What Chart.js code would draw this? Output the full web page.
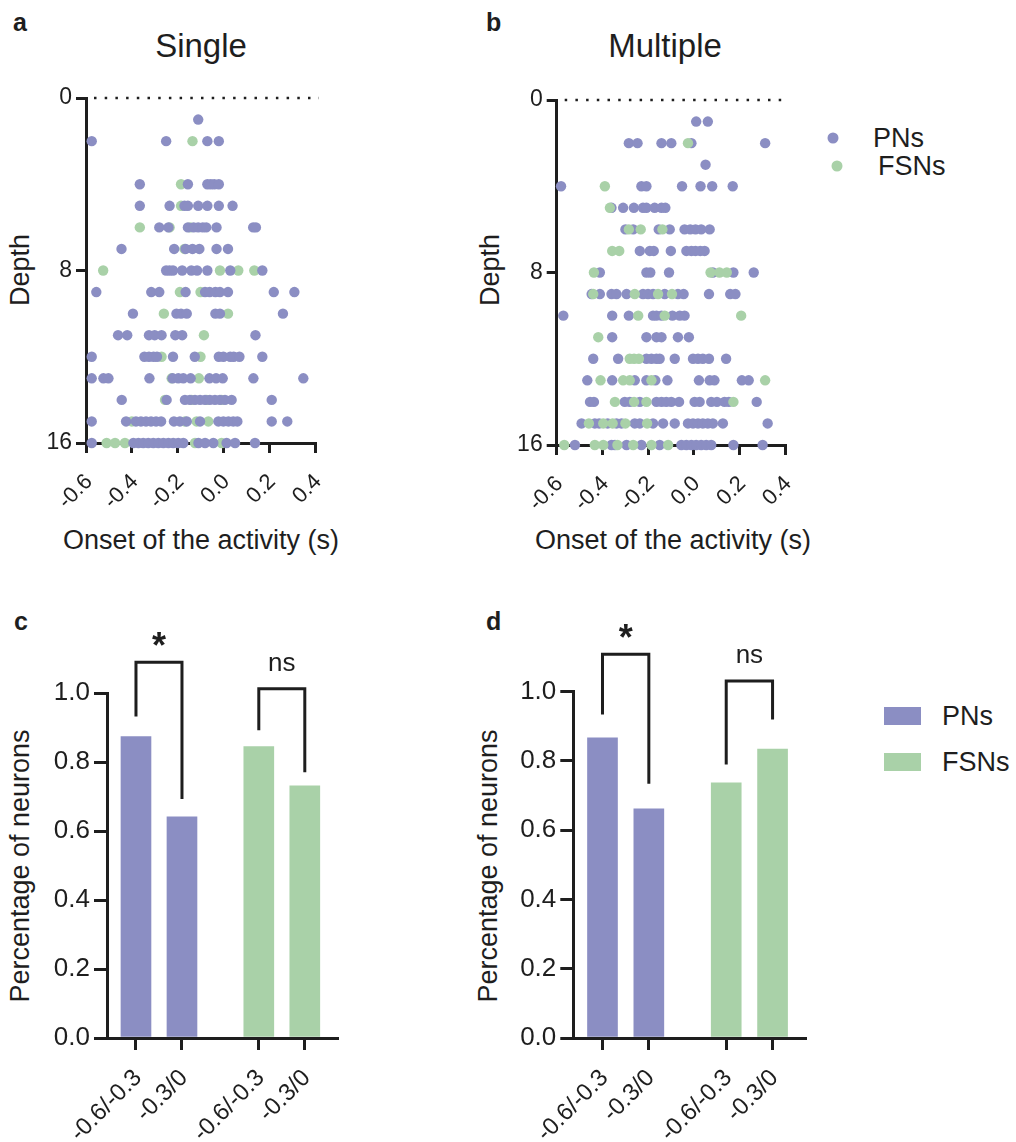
<!DOCTYPE html>
<html>
<head>
<meta charset="utf-8">
<script src="https://cdn.jsdelivr.net/npm/chart.js@4.4.0/dist/chart.umd.min.js"></script>
<style>
  body { margin: 0; background: #fff; width: 1016px; height: 1142px; position: relative; overflow: hidden;
         font-family: "Liberation Sans", Arial, sans-serif; color: #1e1e1e; }
  canvas { position: absolute; }
  .txt { position: absolute; line-height: 1; white-space: nowrap; }
  .center { transform: translate(-50%, -50%); }
  .rot { transform: translate(-50%, -50%) rotate(-90deg); }
  .letter { font-weight: bold; font-size: 25px; }
  .title { font-size: 33px; }
  .axis { font-size: 27px; }
  .leg { font-size: 27px; transform: translateY(-50%); }
  .dot { position: absolute; width: 11px; height: 11px; border-radius: 50%; transform: translate(-50%, -50%); }
  .sq { position: absolute; width: 37px; height: 18px; }
</style>
</head>
<body>

<div class="txt letter" style="left:13px; top:10px;">a</div>
<div class="txt letter" style="left:486px; top:10px;">b</div>
<div class="txt letter" style="left:14px; top:609px;">c</div>
<div class="txt letter" style="left:486px; top:609px;">d</div>

<div class="txt title center" style="left:201px; top:45px;">Single</div>
<div class="txt title center" style="left:665px; top:45px;">Multiple</div>

<div class="txt axis rot" style="left:20px; top:270px;">Depth</div>
<div class="txt axis rot" style="left:490px; top:270px;">Depth</div>
<div class="txt axis center" style="left:201px; top:540px;">Onset of the activity (s)</div>
<div class="txt axis center" style="left:673px; top:540px;">Onset of the activity (s)</div>
<div class="txt axis rot" style="left:20px; top:866px;">Percentage of neurons</div>
<div class="txt axis rot" style="left:488px; top:866px;">Percentage of neurons</div>

<div class="dot" style="left:833px; top:138px; background:#8B8EC3;"></div>
<div class="txt leg" style="left:873px; top:138px;">PNs</div>
<div class="dot" style="left:837px; top:166px; background:#A9D1A8;"></div>
<div class="txt leg" style="left:878px; top:166px;">FSNs</div>

<div class="sq" style="left:884px; top:707px; background:#8B8EC3;"></div>
<div class="txt leg" style="left:942px; top:716px;">PNs</div>
<div class="sq" style="left:884px; top:753px; background:#A9D1A8;"></div>
<div class="txt leg" style="left:942px; top:762px;">FSNs</div>

<canvas id="chartA" width="340" height="510" style="left:0px; top:60px;"></canvas>
<canvas id="chartB" width="340" height="510" style="left:470px; top:62px;"></canvas>
<canvas id="chartC" width="360" height="542" style="left:0px; top:600px;"></canvas>
<canvas id="chartD" width="360" height="542" style="left:470px; top:600px;"></canvas>

<script>
const PN_COLOR = '#8B8EC3';
const FSN_COLOR = '#A9D1A8';
const INK = '#1e1e1e';

// onset (s) of each neuron, grouped by depth row
const singlePN = {
  1: [-0.11],
  2: [-0.575, -0.25, -0.07, -0.02],
  4: [-0.365, -0.155, -0.07, -0.055, -0.04, -0.02],
  5: [-0.365, -0.235, -0.17, -0.155, -0.11, -0.07, -0.02, 0.04],
  6: [-0.28, -0.24, -0.155, -0.13, -0.11, -0.09, -0.075, -0.03, 0.13, 0.142],
  7: [-0.445, -0.215, -0.165, -0.135, -0.105, -0.03, 0.02],
  8: [-0.25, -0.235, -0.22, -0.18, -0.14, -0.115, -0.07, 0.03, 0.17],
  9: [-0.555, -0.315, -0.28, -0.165, -0.08, -0.06, -0.035, -0.015, 0.02, 0.22, 0.31],
  10: [-0.395, -0.205, -0.185, -0.16, -0.035, -0.015, 0.26],
  11: [-0.46, -0.42, -0.325, -0.3, -0.27, -0.21, -0.18, 0.14],
  12: [-0.575, -0.345, -0.325, -0.305, -0.29, -0.22, -0.125, -0.02, 0, 0.03, 0.045, 0.07, 0.17],
  13: [-0.575, -0.524, -0.502, -0.323, -0.222, -0.197, -0.175, -0.143, -0.061, -0.032, -0.003, 0.131, 0.349],
  14: [-0.444, -0.248, -0.168, -0.146, -0.124, -0.102, -0.08, -0.059, -0.037, -0.015, 0.007, 0.036, 0.211],
  15: [-0.575, -0.425, -0.382, -0.36, -0.338, -0.316, -0.294, -0.272, -0.216, -0.19, -0.16, -0.102,
       -0.022, 0, 0.022, 0.043, 0.061, 0.211, 0.279],
  16: [-0.575, -0.393, -0.371, -0.35, -0.328, -0.306, -0.284, -0.262, -0.24, -0.219, -0.197, -0.175,
       -0.109, -0.08, -0.044, 0.014, 0.051, 0.138]
};
const singleFSN = {
  2: [-0.135],
  4: [-0.185],
  5: [-0.185],
  6: [-0.365, -0.235, -0.145],
  7: [-0.17],
  8: [-0.525, -0.015, 0.065, 0.135],
  9: [-0.19, -0.1],
  10: [-0.26, 0.02],
  11: [-0.085],
  12: [-0.27, -0.1],
  13: [-0.226, -0.107],
  14: [-0.255, -0.139, -0.073, -0.008],
  15: [-0.4, -0.168, -0.117, -0.066],
  16: [-0.51, -0.473, -0.43, -0.124, -0.008]
};
const multiplePN = {
  1: [0.011, 0.062],
  2: [-0.284, -0.246, -0.141, -0.098, -0.01, 0.313],
  3: [0.052],
  4: [-0.581, -0.229, -0.207, -0.051, 0.03, 0.081, 0.171],
  5: [-0.36, -0.309, -0.262, -0.222, -0.207, -0.171, -0.141, -0.124],
  6: [-0.299, -0.265, -0.153, -0.105, -0.04, -0.015, 0.008, 0.033, 0.07],
  7: [-0.236, -0.192, -0.175, -0.1, -0.032, -0.01, 0.008, 0.029, 0.048],
  8: [-0.411, -0.207, -0.19, -0.108, 0.084, 0.174, 0.263],
  9: [-0.447, -0.411, -0.36, -0.338, -0.294, -0.222, -0.2, -0.178, -0.127, -0.069, -0.044, 0.067, 0.16, 0.183],
  10: [-0.571, -0.357, -0.284, -0.178, -0.163, -0.141, -0.093, -0.061, -0.04],
  11: [-0.357, -0.207, -0.163, -0.141, -0.069, -0.021],
  12: [-0.44, -0.331, -0.207, -0.185, -0.163, -0.149, -0.083, -0.003, 0.019, 0.04, 0.067, 0.142],
  13: [-0.466, -0.357, -0.258, -0.207, -0.168, -0.115, 0.023, 0.07, 0.091, 0.211, 0.241],
  14: [-0.454, -0.437, -0.302, -0.28, -0.236, -0.163, -0.141, -0.12, -0.098, -0.064, 0.004, 0.026,
       0.077, 0.102, 0.135, 0.154, 0.276],
  15: [-0.491, -0.433, -0.414, -0.377, -0.338, -0.316, -0.258, -0.236, -0.178, -0.134, -0.083, -0.025,
       -0.003, 0.019, 0.04, 0.062, 0.084, 0.128, 0.324],
  16: [-0.52, -0.36, -0.345, -0.294, -0.229, -0.149, -0.054, -0.032, -0.01, 0.011, 0.033, 0.055, 0.077, 0.174, 0.302]
};
const multipleFSN = {
  2: [-0.025],
  4: [-0.389],
  5: [-0.367],
  6: [-0.284, -0.232, -0.137],
  7: [-0.357, -0.326],
  8: [-0.437, 0.074, 0.113, 0.145],
  9: [-0.44, -0.258, -0.156, -0.095],
  10: [-0.243, -0.127, 0.208],
  11: [-0.418],
  12: [-0.28, -0.261, -0.24],
  13: [-0.408, -0.309, -0.28, -0.185, 0.313],
  14: [-0.345, -0.261, -0.207, 0.174],
  15: [-0.459, -0.396, -0.355, -0.299, -0.204],
  16: [-0.567, -0.433, -0.396, -0.334, -0.265, -0.185, -0.112]
};

const onsetTicks = [-0.6, -0.4, -0.2, 0.0, 0.2, 0.4];
const depthTicks = [0, 8, 16];

// bar panels
const barPos = [1, 2, 3.67, 4.67];
const barLabels = ['-0.6/-0.3', '-0.3/0', '-0.6/-0.3', '-0.3/0'];
const barGroups = ['PNs', 'PNs', 'FSNs', 'FSNs'];
const singleBars = [0.874, 0.641, 0.845, 0.731];
const multipleBars = [0.867, 0.662, 0.737, 0.834];
const singleBrackets = [
  { from: 0, to: 1, top: 1.089, left: 0.932, right: 0.693, text: '*' },
  { from: 2, to: 3, top: 1.012, left: 0.892, right: 0.770, text: 'ns' }
];
const multipleBrackets = [
  { from: 0, to: 1, top: 1.108, left: 0.934, right: 0.734, text: '*' },
  { from: 2, to: 3, top: 1.031, left: 0.790, right: 0.920, text: 'ns' }
];

function toPoints(rows) {
  const pts = [];
  Object.keys(rows).forEach(d => rows[d].forEach(x => pts.push({ x: x, y: Number(d) })));
  return pts;
}

const axisLine = { color: INK, width: 3 };
const tickGrid = (len) => ({ offset: false, drawOnChartArea: false, drawTicks: true, tickLength: len, color: INK, lineWidth: 3 });
// keep the plot area where it is, whatever the rotated labels stick out
const fixX = h => s => { s.height = h; s.paddingLeft = 0; s.paddingRight = 0; };
const fixY = w => s => { s.width = w; s.paddingTop = 0; s.paddingBottom = 0; };

const dottedZero = {
  id: 'dottedZero',
  beforeDatasetsDraw(chart) {
    const { ctx, scales: { x, y } } = chart;
    const py = y.getPixelForValue(0);
    ctx.save();
    ctx.strokeStyle = INK;
    ctx.lineWidth = 2.5;
    ctx.setLineDash([2.5, 8.2]);
    ctx.beginPath();
    ctx.moveTo(x.getPixelForValue(-0.6) + 8, py);
    ctx.lineTo(x.getPixelForValue(0.4) + 4, py);
    ctx.stroke();
    ctx.restore();
  }
};

function scatterChart(id, pn, fsn, pnOnTop, yWidth) {
  const pt = { pointRadius: 5.2, pointHoverRadius: 5.2, borderWidth: 0, clip: false };
  new Chart(document.getElementById(id), {
    type: 'scatter',
    data: {
      datasets: [
        Object.assign({ label: 'PNs', data: toPoints(pn), backgroundColor: PN_COLOR, order: pnOnTop ? 0 : 1 }, pt),
        Object.assign({ label: 'FSNs', data: toPoints(fsn), backgroundColor: FSN_COLOR, order: pnOnTop ? 1 : 0 }, pt)
      ]
    },
    options: {
      responsive: false,
      animation: false,
      layout: { padding: { left: 0, top: 38, right: 25, bottom: 0 } },
      plugins: { legend: { display: false }, tooltip: { enabled: false } },
      scales: {
        x: {
          type: 'linear', min: -0.6, max: 0.4,
          afterBuildTicks: s => { s.ticks = onsetTicks.map(v => ({ value: v })); },
          ticks: {
            minRotation: 45, maxRotation: 45, color: INK, padding: 16, labelOffset: 3,
            font: { family: 'Liberation Sans', size: 22 },
            callback: v => (Math.abs(v) < 1e-9 ? '0.0' : v.toFixed(1))
          },
          grid: tickGrid(10),
          border: axisLine,
          afterFit: fixX(127)
        },
        y: {
          type: 'linear', min: 0, max: 16, reverse: true,
          afterBuildTicks: s => { s.ticks = depthTicks.map(v => ({ value: v })); },
          ticks: { color: INK, padding: 4, font: { family: 'Liberation Sans', size: 23 } },
          grid: tickGrid(10),
          border: axisLine,
          afterFit: fixY(yWidth)
        }
      }
    },
    plugins: [dottedZero]
  });
}

function bracketPlugin(brackets) {
  return {
    id: 'brackets',
    afterDatasetsDraw(chart) {
      const { ctx, scales: { x, y } } = chart;
      ctx.save();
      ctx.strokeStyle = INK;
      ctx.fillStyle = INK;
      ctx.lineWidth = 3;
      ctx.lineJoin = 'miter';
      brackets.forEach(b => {
        const x1 = x.getPixelForValue(barPos[b.from]);
        const x2 = x.getPixelForValue(barPos[b.to]);
        const yt = y.getPixelForValue(b.top);
        ctx.beginPath();
        ctx.moveTo(x1, y.getPixelForValue(b.left));
        ctx.lineTo(x1, yt);
        ctx.lineTo(x2, yt);
        ctx.lineTo(x2, y.getPixelForValue(b.right));
        ctx.stroke();
        ctx.textAlign = 'center';
        ctx.textBaseline = 'alphabetic';
        if (b.text === '*') {
          ctx.font = 'bold 36px "Liberation Sans"';
          ctx.fillText(b.text, (x1 + x2) / 2, yt - 4);
        } else {
          ctx.font = '26px "Liberation Sans"';
          ctx.fillText(b.text, (x1 + x2) / 2, yt - 18);
        }
      });
      ctx.restore();
    }
  };
}

function barChart(id, values, brackets, yWidth, padTop, padRight) {
  new Chart(document.getElementById(id), {
    type: 'bar',
    data: {
      datasets: [{
        label: 'Percentage',
        data: barPos.map((p, i) => ({ x: p, y: values[i] })),
        backgroundColor: barGroups.map(g => (g === 'PNs' ? PN_COLOR : FSN_COLOR)),
        barThickness: 30,
        borderWidth: 0
      }]
    },
    options: {
      responsive: false,
      animation: false,
      layout: { padding: { left: 0, top: padTop, right: padRight, bottom: 0 } },
      plugins: { legend: { display: false }, tooltip: { enabled: false } },
      scales: {
        x: {
          type: 'linear', min: 0.37, max: 5.37, offset: false,
          afterBuildTicks: s => { s.ticks = barPos.map(v => ({ value: v })); },
          ticks: {
            minRotation: 45, maxRotation: 45, color: INK, padding: 14, labelOffset: 2,
            font: { family: 'Liberation Sans', size: 24 },
            callback: (v, i) => barLabels[i]
          },
          grid: tickGrid(12),
          border: axisLine,
          afterFit: fixX(104)
        },
        y: {
          type: 'linear', min: 0, max: 1,
          ticks: {
            stepSize: 0.2, color: INK, padding: 4,
            font: { family: 'Liberation Sans', size: 26 },
            callback: v => v.toFixed(1)
          },
          grid: tickGrid(13),
          border: axisLine,
          afterFit: fixY(yWidth)
        }
      }
    },
    plugins: [bracketPlugin(brackets)]
  });
}

scatterChart('chartA', singlePN, singleFSN, true, 86);
scatterChart('chartB', multiplePN, multipleFSN, false, 86.7);
barChart('chartC', singleBars, singleBrackets, 107, 93, 23);
barChart('chartD', multipleBars, multipleBrackets, 103.3, 91.7, 25);
</script>
</body>
</html>
